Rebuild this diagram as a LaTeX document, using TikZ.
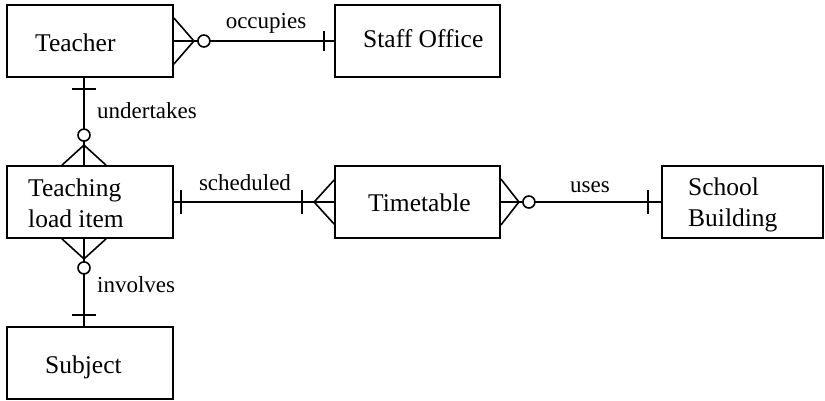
\documentclass[tikz,border=0pt]{standalone}
\usepackage{fontspec}
\setmainfont{Liberation Serif}
\usetikzlibrary{calc}
\begin{document}
\begin{tikzpicture}[x=1pt,y=-1pt,
  entity/.style={draw,line width=1.8pt,minimum width=166pt,minimum height=72pt,inner sep=0pt},
  ename/.style={anchor=base west,inner sep=0pt,align=left,
    font=\fontsize{25.5}{31}\selectfont},
  rel/.style={inner sep=0pt,font=\fontsize{23}{27}\selectfont},
  link/.style={line width=1.6pt},
  card/.style={line width=1.6pt},
  ring/.style={line width=1.6pt,draw,fill=white}]
\useasboundingbox (0,0) rectangle (825,400);

% entities
\node[entity] (teacher) at (90,41) {};
\node[entity,minimum width=165pt] (staff) at (417.5,41) {};
\node[entity] (tli) at (90,202) {};
\node[entity,minimum width=165pt] (timetable) at (417.5,202) {};
\node[entity,minimum width=161pt] (school) at (742.5,202) {};
\node[entity] (subject) at (90,363) {};

% entity names (base anchor sits on the last line)
\node[ename] (teachertxt) at (35,51) {Teacher};
\node[ename] (stafftxt) at (363,47) {Staff Office};
\node[ename] (tlitxt) at (28,227) {Teaching\\load item};
\node[ename] (timetabletxt) at (368,211) {Timetable};
\node[ename] (schooltxt) at (688,226) {School\\Building};
\node[ename] (subjecttxt) at (45,373) {Subject};

% attachment points of the vertical links
\coordinate (tN) at ($(teacher.south)+(-6,0)$);
\coordinate (lN) at ($(tli.north)+(-6,0)$);
\coordinate (lS) at ($(tli.south)+(-6,0)$);
\coordinate (sN) at ($(subject.north)+(-6,0)$);

% connectors
\draw[link] (teacher.east) -- (staff.west);
\draw[link] (tN) -- (lN);
\draw[link] (tli.east) -- (timetable.west);
\draw[link] (timetable.east) -- (school.west);
\draw[link] (lS) -- (sN);

% Teacher -- occupies -- Staff Office
\draw[card] ($(teacher.east)+(0,-23)$) -- ($(teacher.east)+(20,0)$) -- ($(teacher.east)+(0,23)$);
\draw[ring] ($(teacher.east)+(30,0)$) circle[radius=6];
\draw[card] ($(staff.west)+(-10,-10)$) -- ($(staff.west)+(-10,10)$);
\node[rel,anchor=base] (occ) at (266,28) {occupies};

% Teacher -- undertakes -- Teaching load item
\draw[card] ($(tN)+(-12,11)$) -- ($(tN)+(12,11)$);
\draw[card] ($(lN)+(-22,0)$) -- ($(lN)+(0,-20)$) -- ($(lN)+(22,0)$);
\draw[ring] ($(lN)+(0,-30)$) circle[radius=6];
\node[rel,anchor=base west] (und) at (97,118) {undertakes};

% Teaching load item -- scheduled -- Timetable
\draw[card] ($(tli.east)+(7,-12)$) -- ($(tli.east)+(7,12)$);
\draw[card] ($(timetable.west)+(-32,-12)$) -- ($(timetable.west)+(-32,12)$);
\draw[card] ($(timetable.west)+(0,-22)$) -- ($(timetable.west)+(-20,0)$) -- ($(timetable.west)+(0,22)$);
\node[rel,anchor=base] (sch) at (245,190) {scheduled};

% Timetable -- uses -- School Building
\draw[card] ($(timetable.east)+(0,-23)$) -- ($(timetable.east)+(18,0)$) -- ($(timetable.east)+(0,23)$);
\draw[ring] ($(timetable.east)+(28,0)$) circle[radius=6];
\draw[card] ($(school.west)+(-13,-12)$) -- ($(school.west)+(-13,12)$);
\node[rel,anchor=base] (uses) at (590,192) {uses};

% Teaching load item -- involves -- Subject
\draw[card] ($(lS)+(-22,0)$) -- ($(lS)+(0,20)$) -- ($(lS)+(22,0)$);
\draw[ring] ($(lS)+(0,29)$) circle[radius=6];
\draw[card] ($(sN)+(-12,-11)$) -- ($(sN)+(12,-11)$);
\node[rel,anchor=base west] (inv) at (97,292) {involves};
\end{tikzpicture}
\end{document}
